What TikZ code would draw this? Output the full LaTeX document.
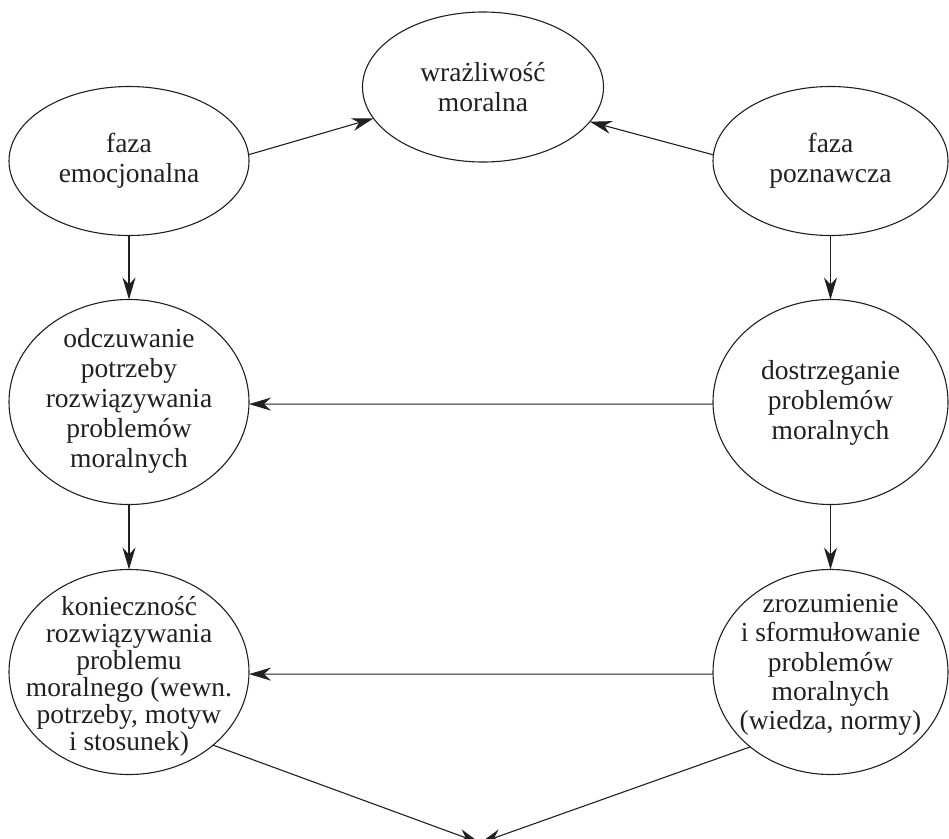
\documentclass[tikz,border=0pt]{standalone}
\usepackage{fontspec}
\setmainfont{Liberation Serif}
\usetikzlibrary{shapes.geometric,arrows.meta}
\definecolor{ink}{HTML}{231F20}
\begin{document}
\begin{tikzpicture}[x=1pt,y=-1pt,
  oval/.style={ellipse, draw=ink, line width=1.1pt, inner sep=0pt, outer sep=0pt},
  lbl/.style={align=center, text=ink, inner sep=0pt, font=\fontsize{27.5}{30}\selectfont},
  arr/.style={draw=ink, line width=1.1pt, -{Stealth[length=22pt,width=13pt,inset=7pt]}}]
\useasboundingbox (0,0) rectangle (949,838);
\clip (0,0) rectangle (949,838);
% ellipses
\node[oval, minimum width=241pt, minimum height=150pt] (wraz) at (483,87) {};
\node[oval, minimum width=240pt, minimum height=149pt] (emo) at (129,161) {};
\node[oval, minimum width=235pt, minimum height=149pt] (pozn) at (830.5,161) {};
\node[oval, minimum width=240pt, minimum height=205pt] (odcz) at (129,402) {};
\node[oval, minimum width=235pt, minimum height=205pt] (dost) at (830.5,402) {};
\node[oval, minimum width=240pt, minimum height=205pt] (koni) at (129,672) {};
\node[oval, minimum width=235pt, minimum height=205pt] (zroz) at (830.5,672) {};
% texts
\node[lbl] (wrazt) at (483,87) {wrażliwość\\moralna};
\node[lbl] (emot) at (129,161) {faza\\emocjonalna};
\node[lbl] (poznt) at (830.5,161) {faza\\poznawcza};
\node[lbl] (odczt) at (129,401) {odczuwanie\\potrzeby\\rozwiązywania\\problemów\\moralnych};
\node[lbl] (dostt) at (830.5,403) {dostrzeganie\\problemów\\moralnych};
\node[lbl, font=\fontsize{27.5}{27}\selectfont] (konit) at (129,676) {konieczność\\rozwiązywania\\problemu\\moralnego (wewn.\\potrzeby, motyw\\i stosunek)};
\node[lbl, font=\fontsize{27.5}{29.3}\selectfont] (zrozt) at (830.5,665) {zrozumienie\\i sformułowanie\\problemów\\moralnych\\(wiedza, normy)};
% free end at the bottom
\coordinate (goal) at (480,843);
% connectors
\draw[arr] (emo.3) -- (wraz.196.6);
\draw[arr] (pozn.177) -- (wraz.342.6);
\draw[arr] (emo.south) -- (odcz.north);
\draw[arr] (pozn.south) -- (dost.north);
\draw[arr] (dost.181.5) -- (odcz.-1.5);
\draw[arr] (odcz.south) -- (koni.north);
\draw[arr] (dost.south) -- (zroz.north);
\draw[arr] (zroz.181) -- (koni.-1);
\draw[arr] (koni.-41) -- (goal);
\draw[arr] (zroz.223) -- (goal);
\end{tikzpicture}
\end{document}
